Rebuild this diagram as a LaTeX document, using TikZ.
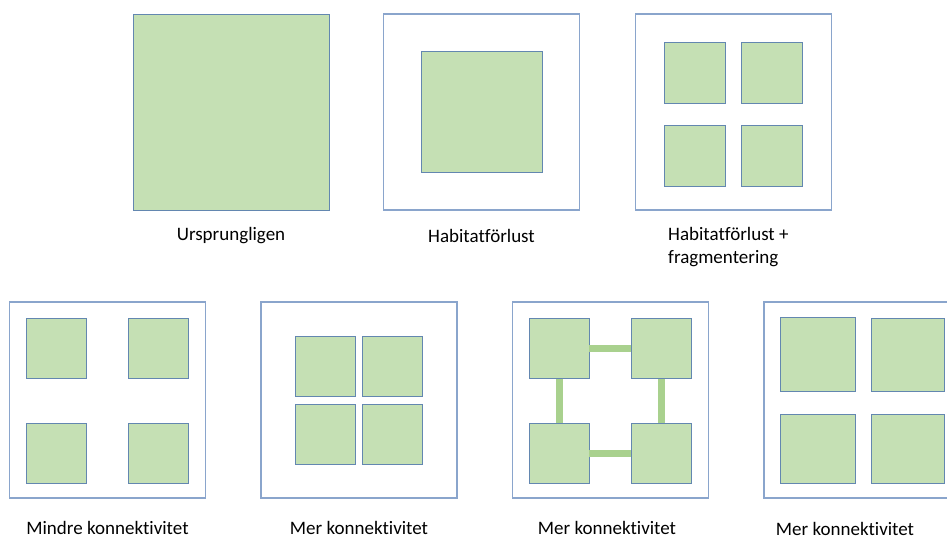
\documentclass[tikz,border=0pt]{standalone}
\usepackage{fontspec}
\setmainfont{Carlito}[Ligatures=NoCommon]
\usepackage{xcolor}
\usetikzlibrary{positioning,calc}
\definecolor{patchfill}{HTML}{C5E0B4}
\definecolor{patchline}{HTML}{6387B0}
\definecolor{frameline}{HTML}{8AA5CC}
\definecolor{corridorfill}{HTML}{A9D18E}
\tikzset{
  frame/.style={draw=frameline,line width=1.2pt,fill=white,inner sep=0pt,outer sep=0pt,minimum size=196pt},
  patch/.style={draw=patchline,line width=1pt,fill=patchfill,inner sep=0pt,outer sep=0pt,minimum size=#1},
  patch/.default=60pt,
  corridor/.style={draw=corridorfill,line width=7pt},
  lbl/.style={font=\fontsize{19}{22.5}\selectfont,inner sep=0pt}
}
\begin{document}
\begin{tikzpicture}[x=1pt,y=-1pt]
\useasboundingbox (0,0) rectangle (947,539);
\clip (0,0) rectangle (947,539);
% top row
\node[patch=196pt] (orig) at (231,112) {};
\node[lbl] (origlbl) at (231,236) {Ursprungligen};
\node[frame] (lossframe) at (481.5,112) {};
\node[patch=121pt] (loss) at (481.5,111.5) {};
\node[lbl] (losslbl) at (481.5,236) {Habitatförlust};
\node[frame] (fragframe) at (733.5,112) {};
\foreach \n/\x/\y in {tl/695/72.5,tr/771.5/72.5,bl/695/156,br/771.5/156}
  \node[patch=61pt] (frag\n) at (\x,\y) {};
\node[lbl,anchor=west,align=left] (fraglbl) at (668,247) {Habitatförlust +\\fragmentering};
% bottom row
\node[frame] (lessframe) at (107.5,400) {};
\foreach \n/\x/\y in {tl/56.5/348.5,tr/158.5/348.5,bl/56.5/453,br/158.5/453}
  \node[patch] (less\n) at (\x,\y) {};
\node[lbl] (lesslbl) at (107.5,528) {Mindre konnektivitet};
\node[frame] (closeframe) at (359,400) {};
\foreach \n/\x/\y in {tl/325/366.5,tr/392.5/366.5,bl/325/434,br/392.5/434}
  \node[patch] (close\n) at (\x,\y) {};
\node[lbl] (closelbl) at (359,528) {Mer konnektivitet};
\node[frame] (linkframe) at (610.5,400) {};
\foreach \n/\x/\y in {tl/559.3/348.5,tr/661/348.5,bl/559.3/453,br/661/453}
  \node[patch] (link\n) at (\x,\y) {};
% corridors
\draw[corridor] (linktl) -- (linktr);
\draw[corridor] (linkbl) -- (linkbr);
\draw[corridor] (linktl) -- (linkbl);
\draw[corridor] (linktr) -- (linkbr);
\node[lbl] (linklbl) at (607,528) {Mer konnektivitet};
\node[frame] (bigframe) at (862,400) {};
\node[patch,minimum width=75pt,minimum height=74pt] (bigtl) at (817.5,354) {};
\node[patch,minimum width=73pt,minimum height=73pt] (bigtr) at (907.5,354.5) {};
\node[patch,minimum width=75pt,minimum height=69pt] (bigbl) at (817.5,448.5) {};
\node[patch,minimum width=73pt,minimum height=69pt] (bigbr) at (907.5,448.5) {};
\node[lbl] (biglbl) at (845,529) {Mer konnektivitet};
\end{tikzpicture}
\end{document}
